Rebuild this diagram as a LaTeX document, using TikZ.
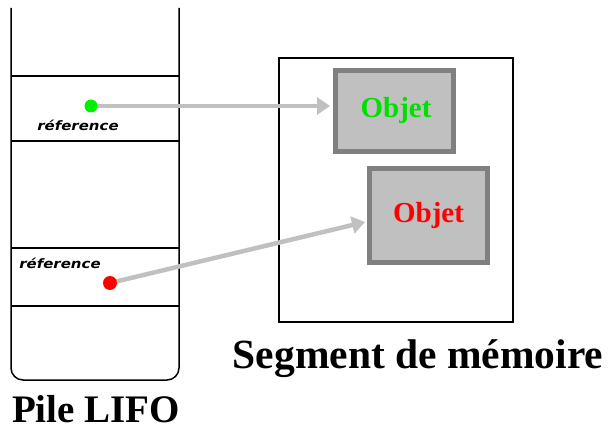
\documentclass[tikz,border=0pt]{standalone}
\usepackage{fontspec}
\setmainfont{Liberation Serif}
\newfontfamily\reffont{DejaVu Sans}
\usetikzlibrary{arrows.meta}
\definecolor{boxfill}{HTML}{C0C0C0}
\definecolor{boxedge}{HTML}{808080}
\definecolor{arrowgray}{HTML}{C0C0C0}
\definecolor{objgreen}{HTML}{00E000}
\definecolor{dotgreen}{HTML}{00F000}
\definecolor{objred}{HTML}{FF0000}
\begin{document}
\begin{tikzpicture}[x=1pt,y=-1pt,
  objbox/.style={draw=boxedge,fill=boxfill,line width=5pt,inner sep=0pt},
  reftext/.style={font=\reffont\bfseries\itshape\fontsize{13}{13}\selectfont,inner sep=0pt,xscale=1.15},
  ptr/.style={draw=arrowgray,line width=4.5pt,-{Triangle[length=13pt,width=17pt]}},
  title/.style={font=\bfseries\fontsize{39}{39}\selectfont,inner sep=0pt},
  segtitle/.style={font=\bfseries\fontsize{41.5}{41.5}\selectfont,inner sep=0pt},
  objtext/.style={font=\bfseries\fontsize{29}{29}\selectfont,inner sep=0pt}]
\useasboundingbox (0,0) rectangle (610,430);
% stack
\draw[line width=1.5pt,rounded corners=12pt] (11,8) -- (11,380) -- (179,380) -- (179,8);
\foreach \yy in {76,141,248,306} \draw[line width=1.2pt] (11,\yy) -- (179,\yy);
\node[reftext] (r1) at (78,125) {réference};
\node[reftext] (r2) at (60,263) {réference};
\coordinate (g) at (91,106);
\coordinate (r) at (110,283);
\node[title,anchor=base] (pile) at (96,422) {Pile LIFO};
% memory segment
\draw[line width=1.5pt] (279,58) rectangle (513,322);
\node[segtitle,anchor=base] (seg) at (418,368) {Segment de mémoire};
\path[objbox] (335.5,70.5) rectangle (453.5,151.5);
\path[objbox] (369.5,168.5) rectangle (487.5,262.5);
\coordinate (o1) at (396,111);
\coordinate (o2) at (428.5,215.5);
\node[objtext,text=objgreen] (t1) at (o1) {Objet};
\node[objtext,text=objred] (t2) at (o2) {Objet};
\coordinate (e1) at (330,106);
\coordinate (e2) at (365,222);
\draw[ptr] (g) -- (e1);
\draw[ptr] (r) -- (e2);
\fill[dotgreen] (g) circle (6.5pt);
\fill[objred] (r) circle (7pt);
\end{tikzpicture}
\end{document}
